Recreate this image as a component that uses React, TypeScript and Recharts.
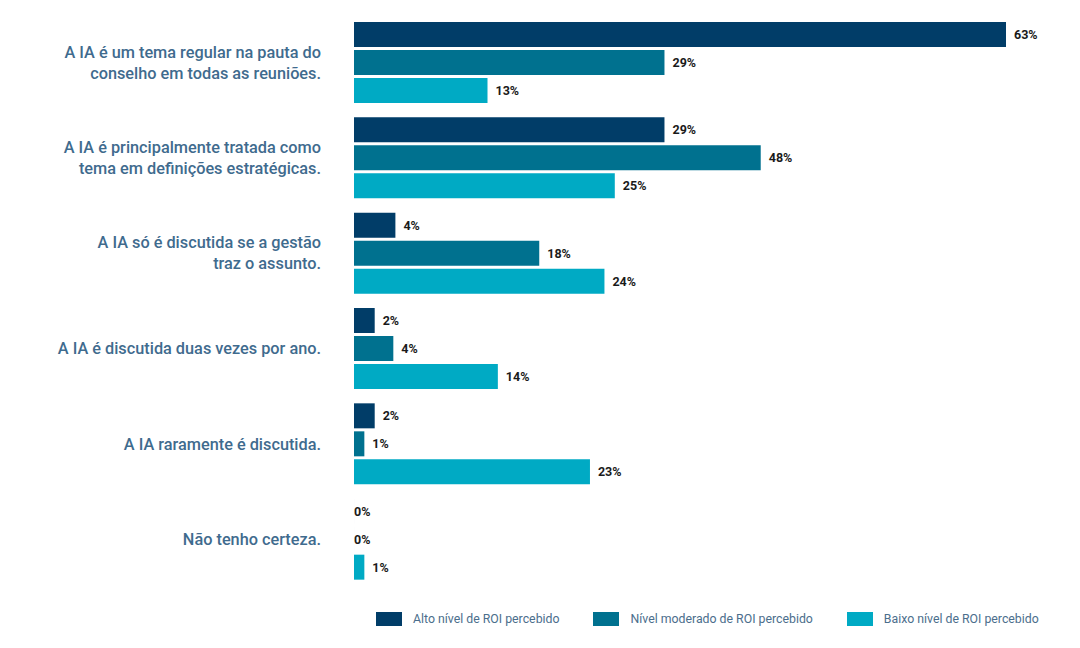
import { BarChart, Bar, XAxis, YAxis, LabelList } from "recharts";

const categories = [
  "A IA é um tema regular na pauta do\nconselho em todas as reuniões.",
  "A IA é principalmente tratada como\ntema em definições estratégicas.",
  "A IA só é discutida se a gestão\ntraz o assunto.",
  "A IA é discutida duas vezes por ano.",
  "A IA raramente é discutida.",
  "Não tenho certeza.",
];

// bar lengths as drawn in the picture
const alto = [63, 30, 4, 2, 2, 0];
const moderado = [30, 39.3, 17.9, 3.8, 1, 0];
const baixo = [12.9, 25.2, 24.2, 13.9, 22.8, 1];

// the printed labels
const altoLabels = ["63%", "29%", "4%", "2%", "2%", "0%"];
const moderadoLabels = ["29%", "48%", "18%", "4%", "1%", "0%"];
const baixoLabels = ["13%", "25%", "24%", "14%", "23%", "1%"];

const seriesNames = [
  "Alto nível de ROI percebido",
  "Nível moderado de ROI percebido",
  "Baixo nível de ROI percebido",
];
const colors = ["#013d68", "#00718f", "#00aac4"];

const data = categories.map((name, i) => ({
  name,
  alto: alto[i],
  moderado: moderado[i],
  baixo: baixo[i],
  altoLabel: altoLabels[i],
  moderadoLabel: moderadoLabels[i],
  baixoLabel: baixoLabels[i],
}));

const FONT = "Roboto, sans-serif";

function CategoryTick(props: any) {
  const { y, payload } = props;
  const lines: string[] = String(payload.value).split("\n");
  const lh = 21;
  const start = -((lines.length - 1) * lh) / 2;
  const tx = 321;
  return (
    <text
      x={tx}
      y={y}
      textAnchor="end"
      fill="#3f6b8e"
      fontFamily={FONT}
      fontWeight={500}
      fontSize={16.3}
    >
      {lines.map((l, i) => (
        <tspan key={i} x={tx} y={y + start + i * lh} dominantBaseline="central">
          {l}
        </tspan>
      ))}
    </text>
  );
}

function ValueLabel(props: any) {
  const { x, y, width, height, value } = props;
  const off = value === "0%" ? 0 : 8;
  return (
    <text
      x={Number(x) + Number(width) + off}
      y={Number(y) + Number(height) / 2}
      dominantBaseline="central"
      fill="#1a1a1a"
      fontFamily={FONT}
      fontWeight={700}
      fontSize={12.5}
    >
      {value}
    </text>
  );
}

function MyLegend() {
  return (
    <div
      style={{
        position: "absolute",
        left: 376,
        top: 612,
        display: "flex",
        fontFamily: FONT,
        fontSize: 12.3,
        color: "#4b6e8c",
        whiteSpace: "nowrap",
      }}
    >
      {seriesNames.map((n, i) => (
        <div key={n} style={{ display: "flex", alignItems: "center", marginRight: 34 }}>
          <span style={{ width: 26, height: 14, background: colors[i], display: "inline-block", marginRight: 11 }} />
          <span>{n}</span>
        </div>
      ))}
    </div>
  );
}

export default function App() {
  return (
    <div style={{ position: "absolute", left: 0, top: 0, width: 1080, height: 648, background: "#fff" }}>
      <BarChart
        width={1080}
        height={648}
        data={data}
        layout="vertical"
        margin={{ top: 15, right: 74, bottom: 61, left: 0 }}
        barSize={25}
        barGap={3}
      >
        <XAxis type="number" hide domain={[0, 63]} />
        <YAxis
          type="category"
          dataKey="name"
          width={354}
          axisLine={false}
          tickLine={false}
          tick={<CategoryTick />}
          interval={0}
        />
        <Bar dataKey="alto" name={seriesNames[0]} fill={colors[0]} minPointSize={0.01} isAnimationActive={false}>
          <LabelList dataKey="altoLabel" content={<ValueLabel />} />
        </Bar>
        <Bar dataKey="moderado" name={seriesNames[1]} fill={colors[1]} minPointSize={0.01} isAnimationActive={false}>
          <LabelList dataKey="moderadoLabel" content={<ValueLabel />} />
        </Bar>
        <Bar dataKey="baixo" name={seriesNames[2]} fill={colors[2]} minPointSize={0.01} isAnimationActive={false}>
          <LabelList dataKey="baixoLabel" content={<ValueLabel />} />
        </Bar>
      </BarChart>
      <MyLegend />
    </div>
  );
}
